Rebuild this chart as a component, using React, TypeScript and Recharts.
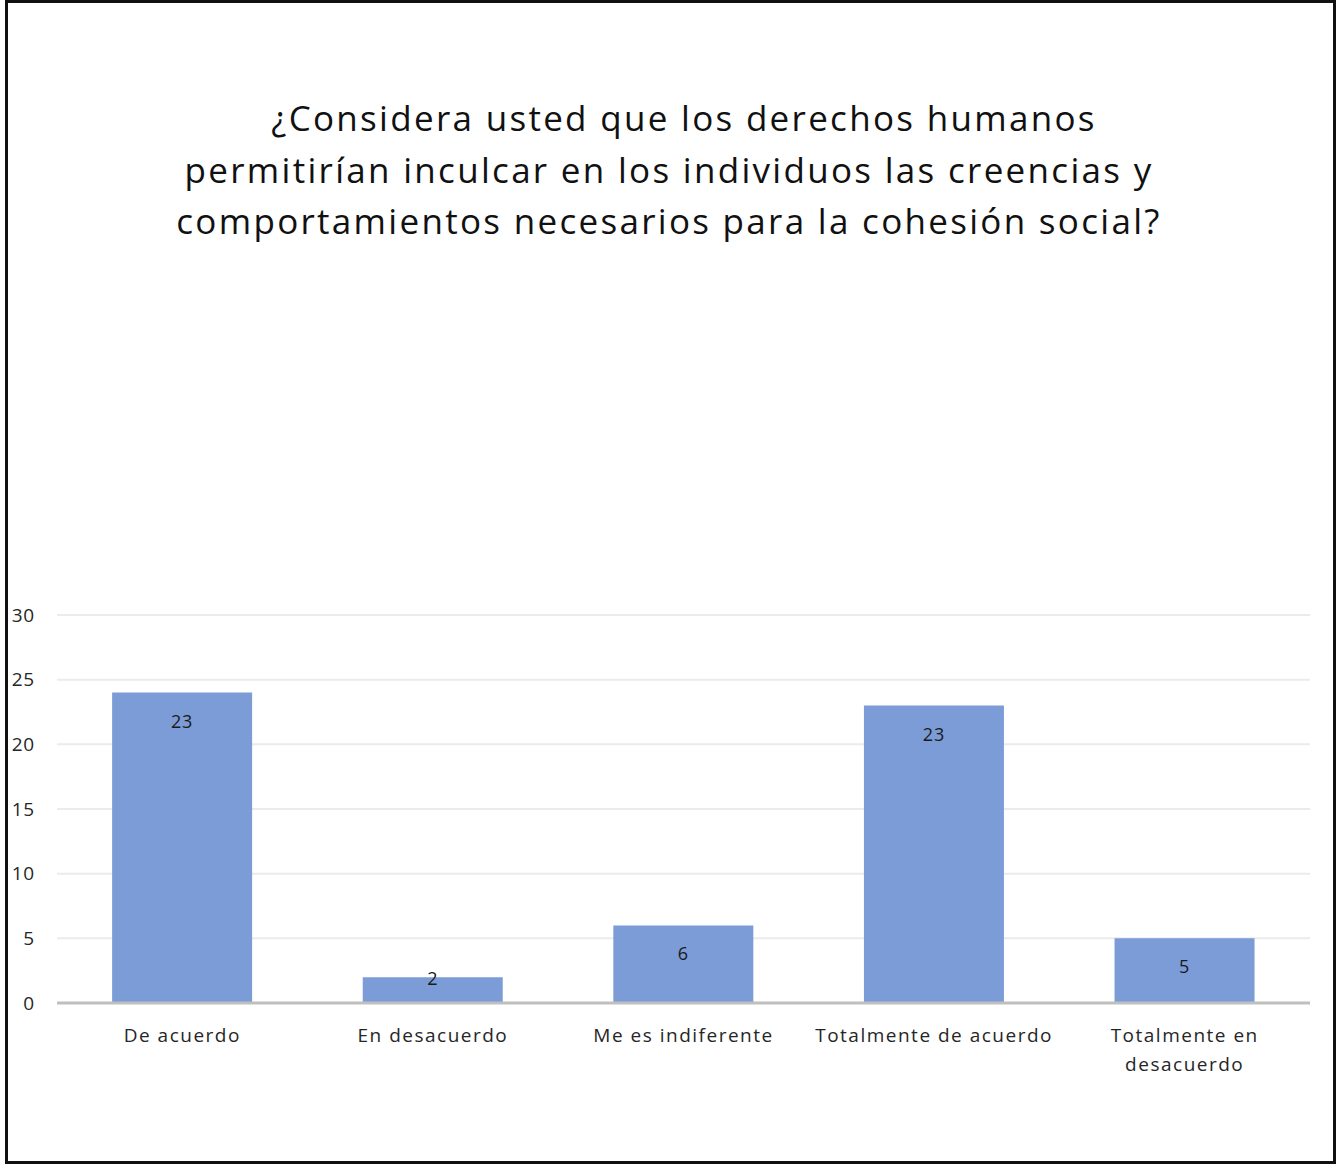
import React from 'react'
import { BarChart, Bar, XAxis, YAxis, CartesianGrid, LabelList } from 'recharts'

const categories = ['De acuerdo', 'En desacuerdo', 'Me es indiferente', 'Totalmente de acuerdo', 'Totalmente en desacuerdo']
// bar heights as drawn, and the numbers printed on the bars (first one differs in the source)
const barValues = [24, 2, 6, 23, 5]
const barLabels = [23, 2, 6, 23, 5]
const yTicks = [0, 5, 10, 15, 20, 25, 30]
const titleLines = [
  '¿Considera usted que los derechos humanos',
  'permitirían inculcar en los individuos las creencias y',
  'comportamientos necesarios para la cohesión social?',
]

const data = categories.map((name, i) => ({ name, value: barValues[i], label: barLabels[i] }))

const FONT = '"Open Sans", sans-serif'

function CategoryTick(props: any) {
  const { x, y, payload } = props
  const text: string = payload.value
  const lines = text.length > 22 ? [text.slice(0, text.lastIndexOf(' ')), text.slice(text.lastIndexOf(' ') + 1)] : [text]
  return (
    <g transform={`translate(${x},${y})`}>
      {lines.map((l, i) => (
        <text key={i} x={0} y={i * 29} dy={31} textAnchor="middle" fill="#262626" fontSize={19} letterSpacing={1.5} fontFamily={FONT}>
          {l}
        </text>
      ))}
    </g>
  )
}

function BarValue(props: any) {
  const { x, y, width, height, index } = props
  const cy = height < 40 ? y + 1 : y + 28
  return (
    <text x={x + width / 2} y={cy} dy={7} textAnchor="middle" fill="#1a1a1a" fontSize={18} letterSpacing={0.8} fontFamily={FONT}>
      {barLabels[index]}
    </text>
  )
}

export default function App() {
  return (
    <div style={{ position: 'absolute', left: 0, top: 0, width: 1338, height: 1164, background: '#fff' }}>
      <div style={{ position: 'absolute', left: 5, top: 0, width: 1325, height: 1158, border: '3px solid #111' }} />
      <div style={{ position: 'absolute', left: 0, top: 92, width: 1338, fontFamily: FONT, fontSize: 35, letterSpacing: 2.3, color: '#111', lineHeight: '51.5px' }}>
        {titleLines.map((t, i) => (
          <div key={i} style={{ textAlign: 'center', paddingLeft: i === 0 ? 30 : 0 }}>{t}</div>
        ))}
      </div>
      <div style={{ position: 'absolute', left: 0, top: 0 }}>
        <BarChart width={1338} height={1164} data={data} margin={{ top: 615, right: 28, bottom: 61, left: 0 }} barCategoryGap="22%">
          <CartesianGrid vertical={false} stroke="#EBEBEB" strokeWidth={2} />
          <XAxis dataKey="name" height={100} axisLine={{ stroke: '#BFBFBF', strokeWidth: 3 }} tickLine={false} tick={<CategoryTick />} interval={0} />
          <YAxis width={57} domain={[0, 30]} ticks={yTicks} axisLine={false} tickLine={false} tickSize={0} tickMargin={22}
            tick={{ fontSize: 19, fill: '#262626', fontFamily: FONT, letterSpacing: 0.8 }} />
          <Bar dataKey="value" fill="#7B9CD6" isAnimationActive={false}>
            <LabelList dataKey="label" content={<BarValue />} />
          </Bar>
        </BarChart>
      </div>
    </div>
  )
}
